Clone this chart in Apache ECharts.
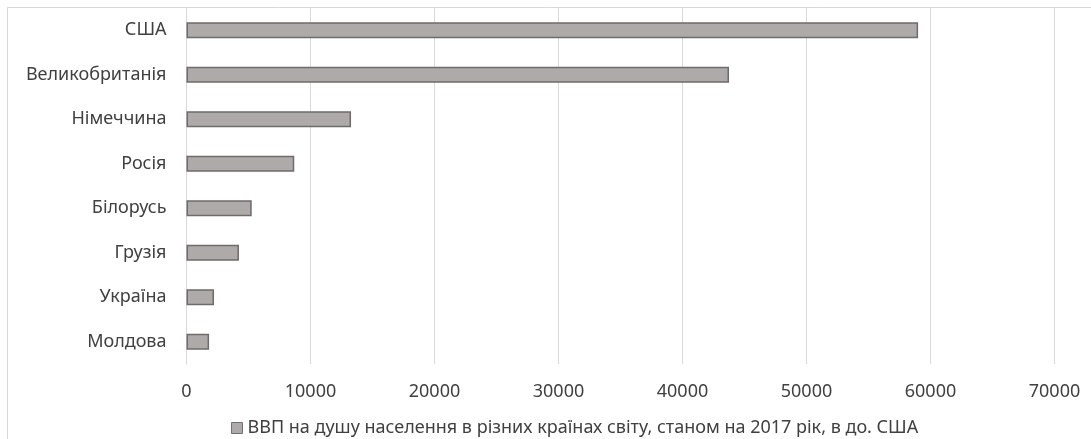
<!DOCTYPE html>
<html>
<head>
<meta charset="utf-8">
<script src="https://cdn.jsdelivr.net/npm/echarts@6/dist/echarts.min.js"></script>
<style>
html,body{margin:0;padding:0;background:#fff;}
#c{width:1091px;height:439px;}
</style>
</head>
<body>
<div id="c"></div>
<script>
const categories = ['США','Великобританія','Німеччина','Росія','Білорусь','Грузія','Україна','Молдова'];
const values = [59000, 43750, 13270, 8690, 5260, 4230, 2220, 1820];
const seriesName = 'ВВП на душу населення в різних країнах світу, станом на 2017 рік, в до. США';
const xTicks = [0, 10000, 20000, 30000, 40000, 50000, 60000, 70000];

const chart = echarts.init(document.getElementById('c'));
const font = 'Noto Sans';
const txt = '#404040';
chart.setOption({
  animation: false,
  backgroundColor: '#fff',
  graphic: [{
    type: 'rect',
    shape: {x: 7.5, y: 7.5, width: 1200, height: 600},
    style: {fill: 'none', stroke: '#d9d9d9', lineWidth: 1},
    silent: true, z: -1
  }],
  grid: {left: 186.5, right: 36.5, top: 8, bottom: 75, containLabel: false},
  legend: {
    left: 226, top: 414,
    itemWidth: 11, itemHeight: 11,
    icon: 'rect',
    textStyle: {fontFamily: font, fontSize: 18, color: txt},
    data: [{name: seriesName, itemStyle: {color: '#aeaaaa', borderColor: '#767171', borderWidth: 1}}]
  },
  xAxis: {
    type: 'value',
    min: xTicks[0], max: xTicks[xTicks.length - 1], interval: 10000,
    axisLine: {show: false},
    axisTick: {show: false},
    splitLine: {lineStyle: {color: '#d9d9d9', width: 1}},
    axisLabel: {fontFamily: font, fontSize: 18, color: txt, margin: 19, formatter: v => String(v)}
  },
  yAxis: {
    type: 'category',
    data: categories,
    inverse: true,
    axisLine: {lineStyle: {color: '#d9d9d9'}},
    axisTick: {show: false},
    axisLabel: {fontFamily: font, fontSize: 18, color: txt, margin: 20}
  },
  series: [{
    name: seriesName,
    type: 'bar',
    data: values,
    barWidth: 16,
    itemStyle: {color: '#aeaaaa', borderColor: '#6f6b6b', borderWidth: 1.5}
  }]
});
</script>
</body>
</html>
